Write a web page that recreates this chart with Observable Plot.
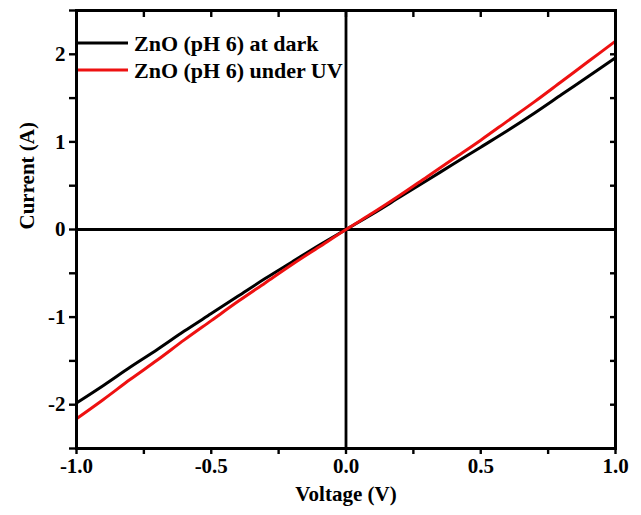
<!DOCTYPE html>
<html>
<head>
<meta charset="utf-8">
<script src="https://cdn.jsdelivr.net/npm/d3@7"></script>
<script src="https://cdn.jsdelivr.net/npm/@observablehq/plot@0.6"></script>
<style>
  html, body { margin: 0; padding: 0; background: #fff; }
  #chart { width: 641px; height: 515px; }
</style>
</head>
<body>
<div id="chart"></div>
<script>
const voltage = [-1, -0.9, -0.8, -0.7, -0.6, -0.5, -0.4, -0.3, -0.2, -0.1, 0, 0.1, 0.2, 0.3, 0.4, 0.5, 0.6, 0.7, 0.8, 0.9, 1];
const currentDark = [-1.98, -1.78, -1.57, -1.37, -1.16, -0.96, -0.76, -0.56, -0.37, -0.18, 0, 0.18, 0.37, 0.56, 0.75, 0.94, 1.13, 1.33, 1.54, 1.75, 1.96];
const currentUV = [-2.16, -1.94, -1.71, -1.49, -1.26, -1.04, -0.82, -0.61, -0.4, -0.2, 0, 0.19, 0.39, 0.6, 0.81, 1.02, 1.24, 1.46, 1.69, 1.92, 2.15];
const seriesNames = ["ZnO (pH 6) at dark", "ZnO (pH 6) under UV"];
const seriesColors = ["#000000", "#ee1111"];
const xTicks = [-1, -0.75, -0.5, -0.25, 0, 0.25, 0.5, 0.75, 1];
const xTickLabels = ["-1.0", "", "-0.5", "", "0.0", "", "0.5", "", "1.0"];
const yTicks = [-2.5, -2, -1.5, -1, -0.5, 0, 0.5, 1, 1.5, 2, 2.5];
const yTickLabels = ["", "-2", "", "-1", "", "0", "", "1", "", "2", ""];
const xTitle = "Voltage (V)";
const yTitle = "Current (A)";

const rows = [];
voltage.forEach((v, i) => {
  rows.push({V: v, I: currentDark[i], s: seriesNames[0]});
  rows.push({V: v, I: currentUV[i], s: seriesNames[1]});
});

const serif = "'Liberation Serif', 'Times New Roman', serif";

const plot = Plot.plot({
  width: 641,
  height: 515,
  marginLeft: 76,
  marginRight: 26,
  marginTop: 10,
  marginBottom: 67,
  style: {fontFamily: serif, fontSize: "21px", fontWeight: "bold", color: "#000", background: "#fff"},
  x: {domain: [-1, 1]},
  y: {domain: [-2.5, 2.5]},
  color: {domain: seriesNames, range: seriesColors},
  marks: [
    Plot.ruleX([0], {stroke: "#000", strokeWidth: 2.8}),
    Plot.ruleY([0], {stroke: "#000", strokeWidth: 2.8}),
    Plot.line(rows, {x: "V", y: "I", z: "s", stroke: "s", strokeWidth: 3, curve: "catmull-rom"}),
    Plot.axisX(xTicks, {anchor: "bottom", tickSize: 6, tickPadding: 4, strokeWidth: 2.4,
      tickFormat: (d, i) => xTickLabels[i], label: null}),
    Plot.axisX(xTicks, {anchor: "top", tickSize: -6, strokeWidth: 2.4, tickFormat: () => "", label: null}),
    Plot.axisY(yTicks, {anchor: "left", tickSize: 7, tickPadding: 4, strokeWidth: 2.4,
      tickFormat: (d, i) => yTickLabels[i], label: null}),
    Plot.axisY(yTicks, {anchor: "right", tickSize: -6, strokeWidth: 2.4, tickFormat: () => "", label: null}),
    Plot.text([xTitle], {frameAnchor: "bottom", dy: 52, text: d => d, fontSize: 21, fontWeight: "bold", fill: "#000"}),
    Plot.text([yTitle], {frameAnchor: "left", dx: -49, rotate: -90, text: d => d, fontSize: 21, fontWeight: "bold", fill: "#000"}),
    Plot.frame({stroke: "#000", strokeWidth: 3})
  ]
});

document.getElementById("chart").appendChild(plot);

// Legend
const svg = d3.select(plot);
const lg = svg.append("g").attr("font-family", serif).attr("font-weight", "bold")
  .attr("font-size", 22).attr("text-anchor", "start");
seriesNames.forEach((name, i) => {
  const y = 43 + i * 27;
  lg.append("line").attr("x1", 78).attr("x2", 128).attr("y1", y).attr("y2", y)
    .attr("stroke", seriesColors[i]).attr("stroke-width", 3);
  lg.append("text").attr("x", 134).attr("y", y).attr("dy", "0.35em").attr("fill", "#000").text(name);
});
</script>
</body>
</html>
